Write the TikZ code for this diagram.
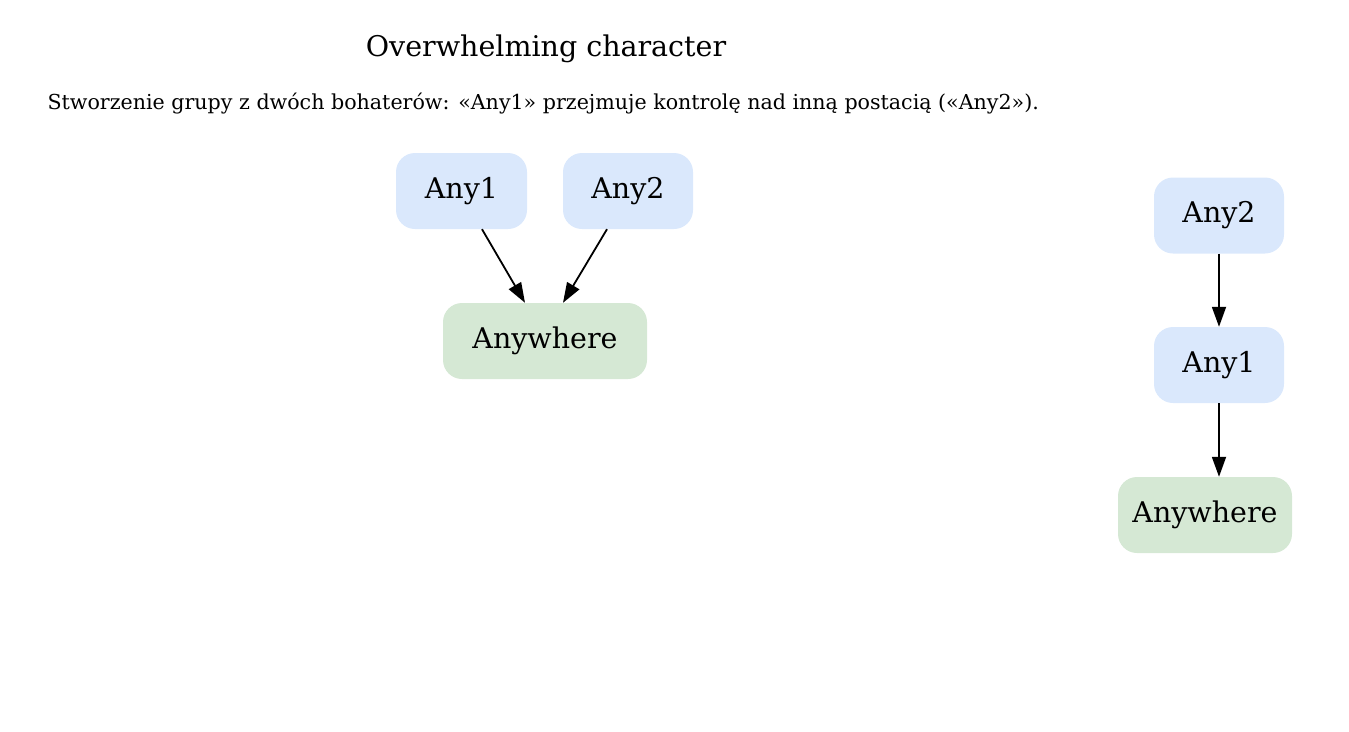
\documentclass[tikz,border=0pt]{standalone}
\usepackage{fontspec}
\setmainfont{DejaVu Serif}
\definecolor{nodeblue}{HTML}{DAE8FC}
\definecolor{nodegreen}{HTML}{D5E8D4}
\usetikzlibrary{arrows.meta,calc}
\begin{document}
\begin{tikzpicture}[x=1pt,y=-1pt,
  box/.style={rounded corners=19pt, inner sep=0pt, minimum height=76pt, font=\fontsize{28.5}{32}\selectfont},
  bluebox/.style={box, fill=nodeblue},
  greenbox/.style={box, fill=nodegreen},
  edge/.style={-{Triangle[length=20pt,width=14pt]}, line width=1.8pt}]
\useasboundingbox (0,0) rectangle (1349,731);
\node[font=\fontsize{28.5}{32}\selectfont] (title) at (546,49) {Overwhelming character};
\node[font=\fontsize{20.6}{24}\selectfont, anchor=west] (sub) at (44,104) {Stworzenie grupy z dwóch bohaterów: «Any1» przejmuje kontrolę nad inną postacią («Any2»).};
% left
\node[bluebox, minimum width=131pt] (a1) at (461.5,191) {Any1};
\node[bluebox, minimum width=130pt] (a2) at (628,191) {Any2};
\node[greenbox, minimum width=204pt] (aw) at (545,341) {Anywhere};
\draw[edge] ($(a1.south)+(20.5,0)$) -- ($(aw.north)+(-20,0)$);
\draw[edge] ($(a2.south)+(-21,0)$) -- ($(aw.north)+(18,0)$);
% right
\node[bluebox, minimum width=130pt] (b2) at (1219,215.5) {Any2};
\node[bluebox, minimum width=130pt] (b1) at (1219,365) {Any1};
\node[greenbox, minimum width=174pt] (bw) at (1205,515) {Anywhere};
\draw[edge] (b2.south) -- (b1.north);
\draw[edge] (b1.south) -- (b1.south |- bw.north);
\end{tikzpicture}
\end{document}
